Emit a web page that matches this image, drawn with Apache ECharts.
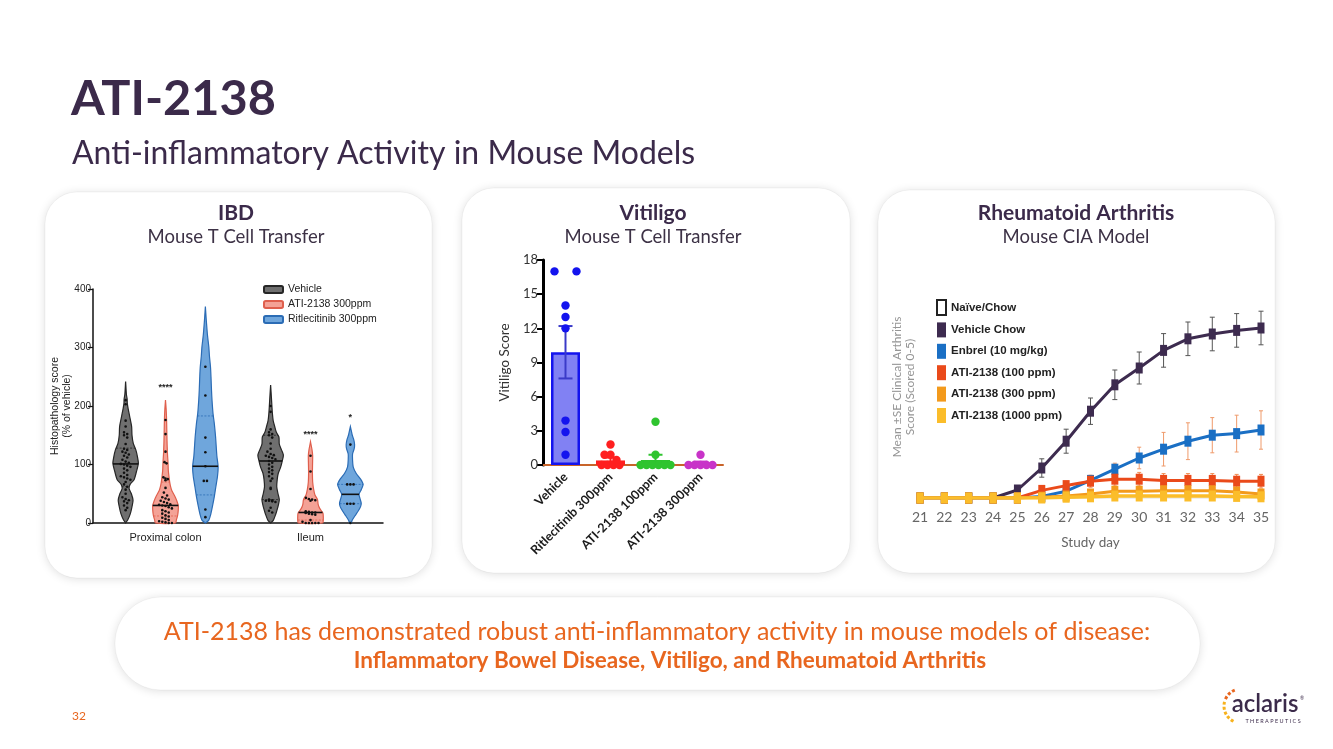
<!DOCTYPE html>
<html><head><meta charset="utf-8">
<script src="https://cdn.jsdelivr.net/npm/echarts@6.0.0/dist/echarts.min.js"></script>
<style>html,body{margin:0;padding:0;background:#ffffff;}#chart{width:1333px;height:749px;}</style>
</head><body><div id="chart"></div>
<script>
// ---------------- DATA ----------------
// IBD (violin plots)
const ibdCategories = ['Proximal colon', 'Ileum'];
const ibdGroups = ['Vehicle', 'ATI-2138 300ppm', 'Ritlecitinib 300ppm'];
const ibdYName = 'Histopathology score\n(% of vehicle)';
// violin outline: [score, relative width 0-1]
const violinVehicleColon = [[0,0],[5,0.16],[16,0.37],[28,0.5],[39,0.58],[50,0.45],[59,0.27],[66,0.35],[74,0.66],[88,0.85],[102,1.0],[114,0.92],[125,0.8],[136,0.6],[150,0.5],[165,0.47],[182,0.32],[195,0.2],[205,0.13],[212,0.12],[220,0.06],[242,0]];
const violinAtiColon = [[0,0.78],[5,0.85],[13,0.95],[22,1.0],[30,1.0],[40,0.85],[45,0.75],[55,0.5],[62,0.4],[70,0.33],[78,0.28],[90,0.22],[102,0.2],[120,0.15],[140,0.12],[160,0.1],[180,0.08],[195,0.05],[210,0]];
const violinRitColon = [[0,0],[5,0.27],[15,0.42],[28,0.55],[45,0.7],[62,0.82],[80,0.95],[96,1.0],[115,0.9],[147,0.8],[170,0.7],[187,0.6],[210,0.52],[227,0.48],[250,0.44],[267,0.4],[285,0.32],[301,0.27],[320,0.17],[330,0.13],[350,0.06],[370,0]];
const violinVehicleIleum = [[0,0],[5,0.22],[15,0.4],[22,0.5],[32,0.62],[40,0.68],[50,0.58],[62,0.48],[75,0.52],[85,0.6],[95,0.78],[105,0.9],[116,1.0],[125,0.85],[135,0.68],[147,0.65],[155,0.45],[165,0.32],[175,0.2],[187,0.14],[200,0.1],[215,0.06],[236,0]];
const violinAtiIleum = [[0,0.95],[5,1.0],[12,1.0],[17,0.97],[25,0.72],[32,0.6],[40,0.55],[48,0.35],[57,0.25],[70,0.17],[85,0.15],[100,0.16],[115,0.17],[125,0.12],[139,0]];
const violinRitIleum = [[0,0.05],[5,0.15],[12,0.35],[20,0.6],[28,0.8],[34,0.85],[42,0.75],[49,0.68],[57,0.85],[66,1.0],[75,0.8],[85,0.45],[96,0.22],[108,0.17],[118,0.17],[127,0.3],[134,0.33],[142,0.27],[150,0.15],[158,0.07],[165,0]];
// [median, q1, q3] per category
const quartVehicle = [[101,62,128],[106,40,150]];
const quartAti = [[30,12,70],[18,5,40]];
const quartRit = [[97,48,183],[49,33,66]];
// individual animals
const dotsVehicleColon = [210,203,175,165,155,152,150,146,135,127,125,122,120,117,115,112,108,105,103,101,100,98,96,93,90,86,82,80,78,76,74,70,66,62,57,50,44,41,39,37,34,30,26,22];
const dotsAtiColon = [176,152,122,104,102,78,76,75,73,60,52,47,44,42,40,38,36,34,32,31,30,29,27,25,22,20,18,16,13,11,9,7,5,3,2,1,0,0];
const dotsRitColon = [267,218,146,121,97,72,72,23,10];
const dotsVehicleIleum = [200,190,160,155,152,150,146,136,127,122,118,116,115,113,111,109,106,103,100,96,93,90,87,84,80,76,72,60,58,40,39,38,38,37,36,26,21,18];
const dotsAtiIleum = [115,88,58,43,41,40,39,38,20,19,18,18,17,16,15,14,5,2,0,0,0,0,0];
const dotsRitIleum = [134,66,66,66,33,33,33,0];
// significance marks: [category, group, score, label]
const ibdStars = [[0,1,232,'****'],[1,1,152,'****'],[1,2,180,'*']];

// Vitiligo
const vitCategories = ['Vehicle','Ritlecitinib 300ppm','ATI-2138 100ppm','ATI-2138 300ppm'];
const vitMeans = [9.9, 0.4, 0.45, 0.15];
const vitSE = [2.3, 0.25, 0.45, 0.15];
const vitDotsVehicle = [17,17,14,13,12,3.9,2.9,0.9];
const vitDotsRit = [1.8,0.9,0.9,0.45,0,0,0,0];
const vitDotsAti100 = [3.8,0.9,0,0,0,0,0,0];
const vitDotsAti300 = [0.9,0,0,0,0,0];

// Rheumatoid arthritis (CIA)
const raDays = ['21','22','23','24','25','26','27','28','29','30','31','32','33','34','35'];
const raNaive = [0,0,0,0,0,0,0,0,0,0,0,0,0,0,0];
const raVehicle = [0,0,0,0,0.2,0.75,1.42,2.17,2.83,3.25,3.69,3.98,4.1,4.19,4.25];
const raVehicleSE = [0,0,0,0,0.05,0.23,0.3,0.33,0.37,0.4,0.42,0.42,0.42,0.42,0.42];
const raEnbrel = [0,0,0,0,0,0.04,0.17,0.44,0.72,1.0,1.22,1.42,1.57,1.61,1.7];
const raEnbrelSE = [0,0,0,0,0,0.02,0.05,0.1,0.15,0.27,0.42,0.46,0.44,0.46,0.48];
const raAti100 = [0,0,0,0,0,0.19,0.31,0.42,0.47,0.47,0.44,0.44,0.44,0.42,0.42];
const raAti100SE = [0,0,0,0,0,0.05,0.08,0.15,0.17,0.17,0.17,0.17,0.17,0.17,0.17];
const raAti300 = [0,0,0,0,0,0.02,0.05,0.1,0.17,0.17,0.18,0.18,0.18,0.15,0.1];
const raAti1000 = [0,0,0,0,0,0,0.02,0.03,0.05,0.05,0.05,0.05,0.05,0.04,0.03];

// ---------------- STYLE / LAYOUT ----------------
const PURPLE = '#3b2a4a';
const ORANGE = '#e8661f';
const SANS = "Lato, 'Noto Sans', sans-serif";
const ARIAL = "'Liberation Sans', Arial, sans-serif";
const measureCtx = document.createElement('canvas').getContext('2d');
function fitSize(text, weight, family, width, maxSize) {
  measureCtx.font = weight + ' 100px ' + family;
  const w = measureCtx.measureText(text).width;
  return Math.min(maxSize, 100 * width / w);
}

const violinProfiles = [[violinVehicleColon, violinVehicleIleum],[violinAtiColon, violinAtiIleum],[violinRitColon, violinRitIleum]];
const violinQuart = [quartVehicle, quartAti, quartRit];
const violinDots = [[dotsVehicleColon, dotsVehicleIleum],[dotsAtiColon, dotsAtiIleum],[dotsRitColon, dotsRitIleum]];
const violinFill = ['#6f6f6f','#f4a296','#6fa6dc'];
const violinEdge = ['#262626','#df5f4d','#2b6cb5'];
const GROUP_SHIFT = 0.275, VIOLIN_HW = 0.088;

function widthAt(prof, v) {
  for (let i = 1; i < prof.length; i++) {
    if (v <= prof[i][0]) {
      const a = prof[i-1], b = prof[i];
      const t = (v - a[0]) / ((b[0] - a[0]) || 1);
      return a[1] + (b[1] - a[1]) * t;
    }
  }
  return 0;
}
function swarm(values, binSize, stepFn) {
  const bins = {};
  values.forEach(v => { const b = Math.round(v / binSize); (bins[b] = bins[b] || []).push(v); });
  const out = [];
  Object.keys(bins).forEach(k => {
    const arr = bins[k], n = arr.length, step = stepFn(arr[0], n);
    arr.forEach((v, i) => out.push([v, (i - (n - 1) / 2) * step]));
  });
  return out;
}
function violinRender(g) {
  return function (params, api) {
    const cat = api.value(0);
    const prof = violinProfiles[g][cat];
    const band = api.size([1, 0])[0];
    const cx = api.coord([cat, 0])[0] + (g - 1) * band * GROUP_SHIFT;
    const hw = band * VIOLIN_HW;
    const Y = v => api.coord([cat, v])[1];
    const pts = prof.map(p => [cx + p[1] * hw, Y(p[0])])
      .concat(prof.slice().reverse().map(p => [cx - p[1] * hw, Y(p[0])]));
    const children = [{ type: 'polygon', shape: { points: pts, smooth: 0.25 },
      style: { fill: violinFill[g], stroke: violinEdge[g], lineWidth: 1.2 } }];
    violinQuart[g][cat].forEach((v, k) => {
      const w = widthAt(prof, v) * hw;
      children.push({ type: 'line', shape: { x1: cx - w, y1: Y(v), x2: cx + w, y2: Y(v) },
        style: { stroke: k === 0 ? '#111' : violinEdge[g], lineWidth: k === 0 ? 1.6 : 0.8, lineDash: k === 0 ? null : [2, 1.5] } });
    });
    swarm(violinDots[g][cat], 7, () => 3.2).forEach(([v, o]) => {
      const lim = Math.max(0, widthAt(prof, v) * hw - 1.5);
      const off = Math.max(-lim, Math.min(lim, o));
      children.push({ type: 'circle', shape: { cx: cx + off, cy: Y(v), r: 1.3 }, style: { fill: '#111' } });
    });
    return { type: 'group', children };
  };
}

const vitDots = [vitDotsVehicle, vitDotsRit, vitDotsAti100, vitDotsAti300];
const vitFill = ['rgba(80,80,238,0.72)','rgba(255,70,70,0.85)','rgba(80,210,80,0.85)','rgba(215,80,215,0.85)'];
const vitEdge = ['#1414ee','#ff1f1f','#2fc42f','#c833c8'];
const vitErr = ['#3a3ac8','#ff1f1f','#2fc42f','#c833c8'];

function errRender(colorFn, cap, width) {
  return function (params, api) {
    const i = api.value(0);
    const lo = api.coord([i, api.value(1)]), hi = api.coord([i, api.value(2)]);
    const c = colorFn(i);
    return { type: 'group', children: [
      { type: 'line', shape: { x1: lo[0], y1: lo[1], x2: hi[0], y2: hi[1] }, style: { stroke: c, lineWidth: width } },
      { type: 'line', shape: { x1: hi[0] - cap, y1: hi[1], x2: hi[0] + cap, y2: hi[1] }, style: { stroke: c, lineWidth: width } },
      { type: 'line', shape: { x1: lo[0] - cap, y1: lo[1], x2: lo[0] + cap, y2: lo[1] }, style: { stroke: c, lineWidth: width } }
    ] };
  };
}
function errData(vals, se) {
  const d = [];
  vals.forEach((v, i) => { if (se[i] > 0) d.push([i, Math.max(0, v - se[i]), v + se[i]]); });
  return d;
}

// ---------------- TEXT SIZES ----------------
const sTitle = fitSize('ATI-2138', 'bold', SANS, 205, 50);
const sSub = fitSize('Anti-inflammatory Activity in Mouse Models', 'normal', SANS, 691, 32);
const sPanelT = fitSize('Rheumatoid Arthritis', 'bold', SANS, 213, 21);
const sPanelS = fitSize('Mouse CIA Model', 'normal', SANS, 167, 18.5);
const sBot1 = fitSize('ATI-2138 has demonstrated robust anti-inflammatory activity in mouse models of disease:', 'normal', SANS, 1073, 25);
const sBot2 = fitSize('Inflammatory Bowel Disease, Vitiligo, and Rheumatoid Arthritis', 'bold', SANS, 730, 22.5);

function panel(x, y, w, h) {
  return { type: 'rect', z: 0, shape: { x, y, width: w, height: h, r: 32 },
    style: { fill: '#ffffff', stroke: 'rgba(0,0,0,0.04)', lineWidth: 1, shadowBlur: 10, shadowColor: 'rgba(0,0,0,0.13)', shadowOffsetY: 1 } };
}
function txt(text, x, y, size, weight, fill, align, family) {
  return { type: 'text', z: 5, x, y, style: { text, fill, font: weight + ' ' + size + 'px ' + (family || SANS), align: align || 'center', verticalAlign: 'middle' } };
}

// ---------------- CHART ----------------
const chart = echarts.init(document.getElementById('chart'), null, { renderer: 'canvas' });
const raColors = { naive: '#ffffff', vehicle: '#3d2b4f', enbrel: '#1a6fc4', a100: '#ea4a1a', a300: '#f39a1c', a1000: '#fbbd2a' };

const option = {
  animation: false,
  backgroundColor: '#ffffff',
  textStyle: { fontFamily: SANS },
  graphic: [
    panel(45, 192, 387, 386),
    panel(462, 188, 388, 385),
    panel(878, 190, 397, 383),
    { type: 'rect', z: 0, shape: { x: 115, y: 597, width: 1085, height: 93, r: 46 },
      style: { fill: '#ffffff', stroke: 'rgba(0,0,0,0.04)', lineWidth: 1, shadowBlur: 10, shadowColor: 'rgba(0,0,0,0.13)', shadowOffsetY: 1 } },
    txt('ATI-2138', 71, 99, sTitle, 'bold', PURPLE, 'left', SANS),
    txt('Anti-inflammatory Activity in Mouse Models', 72, 154, sSub, 'normal', PURPLE, 'left'),
    txt('IBD', 236, 213, sPanelT, 'bold', PURPLE),
    txt('Mouse T Cell Transfer', 236, 237, sPanelS, 'normal', '#3d3246'),
    txt('Vitiligo', 653, 213, sPanelT, 'bold', PURPLE),
    txt('Mouse T Cell Transfer', 653, 237, sPanelS, 'normal', '#3d3246'),
    txt('Rheumatoid Arthritis', 1076, 213, sPanelT, 'bold', PURPLE),
    txt('Mouse CIA Model', 1076, 237, sPanelS, 'normal', '#3d3246'),
    txt('ATI-2138 has demonstrated robust anti-inflammatory activity in mouse models of disease:', 657, 632, sBot1, 'normal', ORANGE),
    txt('Inflammatory Bowel Disease, Vitiligo, and Rheumatoid Arthritis', 670, 661, sBot2, 'bold', ORANGE),
    txt('32', 72, 716, 12, 'normal', ORANGE, 'left'),
    // IBD y-axis title (rotated)
    { type: 'text', z: 5, x: 61, y: 406, rotation: Math.PI / 2,
      style: { text: ibdYName, fill: '#222', font: 'normal 10.5px ' + ARIAL, lineHeight: 12, align: 'center', verticalAlign: 'middle' } },
    // logo
    { type: 'arc', z: 5, shape: { cx: 1241, cy: 706, r: 17, startAngle: -Math.PI * 0.62, endAngle: -Math.PI * 0.9, clockwise: false }, style: { stroke: '#e8661f', lineWidth: 3, fill: null, lineDash: [3, 2] } },
    { type: 'arc', z: 5, shape: { cx: 1241, cy: 706, r: 17, startAngle: -Math.PI * 0.92, endAngle: Math.PI * 0.62, clockwise: false }, style: { stroke: '#f7b21e', lineWidth: 3, fill: null, lineDash: [3, 2] } },
    txt('aclaris', 1265, 704, 24, '600', PURPLE, 'center'),
    txt('T H E R A P E U T I C S', 1273, 721, 5.5, 'normal', PURPLE, 'center'),
    txt('®', 1302, 698, 5, 'normal', PURPLE, 'center')
  ],
  legend: [
    { left: 258, top: 279, orient: 'vertical', itemWidth: 19, itemHeight: 7, itemGap: 4, icon: 'roundRect', selectedMode: false,
      textStyle: { fontFamily: ARIAL, fontSize: 10.5, color: '#222' }, data: ibdGroups },
    { left: 931, top: 294, orient: 'vertical', itemWidth: 9, itemHeight: 15, itemGap: 6.4, icon: 'rect', selectedMode: false,
      textStyle: { fontFamily: "'Liberation Sans', Arial, sans-serif", fontWeight: 'bold', fontSize: 11.5, color: '#222' },
      data: ['Naïve/Chow', 'Vehicle Chow', 'Enbrel (10 mg/kg)', 'ATI-2138 (100 ppm)', 'ATI-2138 (300 ppm)', 'ATI-2138 (1000 ppm)'] }
  ],
  grid: [
    { left: 93, top: 289, width: 290, height: 234 },
    { left: 543, top: 260, width: 180, height: 205 },
    { left: 920, top: 298, width: 341, height: 200 }
  ],
  xAxis: [
    { gridIndex: 0, type: 'category', data: ibdCategories,
      axisLine: { lineStyle: { color: '#111', width: 1.5 } },
      axisTick: { alignWithLabel: true, length: 5, lineStyle: { color: '#111', width: 1.2 } },
      axisLabel: { fontFamily: ARIAL, fontSize: 11, color: '#222', margin: 9 } },
    { gridIndex: 1, type: 'category', data: vitCategories,
      axisLine: { lineStyle: { color: '#c8642a', width: 2 } },
      axisTick: { alignWithLabel: true, length: 6, lineStyle: { color: '#111', width: 2 } },
      axisLabel: { rotate: 45, fontSize: 12.5, fontWeight: 'bold', color: '#1a1a1a', margin: 10, interval: 0 } },
    { gridIndex: 2, type: 'category', data: raDays, boundaryGap: false,
      axisLine: { show: false }, axisTick: { show: false },
      axisLabel: { fontSize: 14, color: '#666', margin: 12 },
      name: 'Study day', nameLocation: 'middle', nameGap: 38, nameTextStyle: { fontSize: 13.5, color: '#666' } }
  ],
  yAxis: [
    { gridIndex: 0, type: 'value', min: 0, max: 400, interval: 100,
      axisLine: { show: true, lineStyle: { color: '#111', width: 1.5 } },
      axisTick: { show: true, length: 5, lineStyle: { color: '#111', width: 1.2 } },
      axisLabel: { fontFamily: ARIAL, fontSize: 10, color: '#222', margin: 2 },
      splitLine: { show: false } },
    { gridIndex: 1, type: 'value', min: 0, max: 18, interval: 3,
      axisLine: { show: true, lineStyle: { color: '#000', width: 3 } },
      axisTick: { show: true, length: 6, lineStyle: { color: '#000', width: 2 } },
      axisLabel: { fontSize: 13, color: '#333', margin: 5 },
      splitLine: { show: false },
      name: 'Vitiligo Score', nameLocation: 'middle', nameGap: 31, nameTextStyle: { fontSize: 13.5, color: '#333' } },
    { gridIndex: 2, type: 'value', min: 0, max: 5,
      axisLine: { show: false }, axisTick: { show: false }, axisLabel: { show: false }, splitLine: { show: false },
      name: 'Mean ±SE Clinical Arthritis\nScore (Scored 0-5)', nameLocation: 'middle', nameGap: 3,
      nameTextStyle: { fontSize: 12, color: '#959595', lineHeight: 13, padding: [0, 0, 0, 22] } }
  ],
  series: [
    // IBD violins
    ...ibdGroups.map((name, g) => ({
      type: 'custom', name, xAxisIndex: 0, yAxisIndex: 0, z: 3, clip: false,
      itemStyle: { color: violinFill[g], borderColor: violinEdge[g], borderWidth: 1 },
      renderItem: violinRender(g), data: [[0, 0], [1, 0]], encode: { x: 0, y: 1 }
    })),
    { type: 'custom', xAxisIndex: 0, yAxisIndex: 0, z: 4, clip: false,
      data: ibdStars.map(s => [s[0], s[2]]),
      renderItem: (params, api) => {
        const s = ibdStars[params.dataIndex];
        const band = api.size([1, 0])[0];
        const p = api.coord([s[0], s[2]]);
        return { type: 'text', x: p[0] + (s[1] - 1) * band * GROUP_SHIFT, y: p[1],
          style: { text: s[3], fill: '#222', font: 'bold 9px ' + ARIAL, align: 'center', verticalAlign: 'middle' } };
      } },
    // Vitiligo
    { type: 'bar', xAxisIndex: 1, yAxisIndex: 1, barWidth: 29, z: 2,
      data: vitMeans.map((v, i) => ({ value: v, itemStyle: { color: vitFill[i], borderColor: vitEdge[i], borderWidth: 2.5 } })) },
    { type: 'custom', xAxisIndex: 1, yAxisIndex: 1, z: 4, clip: false,
      data: errData(vitMeans, vitSE), renderItem: errRender(i => vitErr[i], 7, 2) },
    { type: 'custom', xAxisIndex: 1, yAxisIndex: 1, z: 5, clip: false,
      data: vitCategories.map((c, i) => [i, 0]),
      renderItem: (params, api) => {
        const i = api.value(0);
        const cx = api.coord([i, 0])[0];
        const children = swarm(vitDots[i], 0.7, (v, n) => (v > 5 && n === 2 ? 22 : 6)).map(([v, o]) => ({
          type: 'circle', shape: { cx: cx + o, cy: api.coord([i, v])[1], r: 4.2 }, style: { fill: vitEdge[i] } }));
        return { type: 'group', children };
      } },
    // RA
    { type: 'line', name: 'Naïve/Chow', xAxisIndex: 2, yAxisIndex: 2, data: raNaive, z: 1,
      symbol: 'rect', showSymbol: false, symbolSize: [7, 11], lineStyle: { width: 2, color: '#eeeeee' },
      itemStyle: { color: raColors.naive, borderColor: '#222', borderWidth: 1.2 } },
    { type: 'custom', xAxisIndex: 2, yAxisIndex: 2, z: 2, data: errData(raVehicle, raVehicleSE), renderItem: errRender(() => '#555', 2.5, 1) },
    { type: 'line', name: 'Vehicle Chow', xAxisIndex: 2, yAxisIndex: 2, data: raVehicle, z: 3,
      symbol: 'rect', symbolSize: [7, 11], lineStyle: { width: 3, color: raColors.vehicle }, itemStyle: { color: raColors.vehicle } },
    { type: 'custom', xAxisIndex: 2, yAxisIndex: 2, z: 3, data: errData(raEnbrel, raEnbrelSE), renderItem: errRender(() => '#ef9a6a', 2, 1) },
    { type: 'line', name: 'Enbrel (10 mg/kg)', xAxisIndex: 2, yAxisIndex: 2, data: raEnbrel, z: 4,
      symbol: 'rect', symbolSize: [7, 11], lineStyle: { width: 3, color: raColors.enbrel }, itemStyle: { color: raColors.enbrel } },
    { type: 'custom', xAxisIndex: 2, yAxisIndex: 2, z: 4, data: errData(raAti100, raAti100SE), renderItem: errRender(() => '#f08a50', 2, 1) },
    { type: 'line', name: 'ATI-2138 (100 ppm)', xAxisIndex: 2, yAxisIndex: 2, data: raAti100, z: 5,
      symbol: 'rect', symbolSize: [7, 11], lineStyle: { width: 3, color: raColors.a100 }, itemStyle: { color: raColors.a100 } },
    { type: 'line', name: 'ATI-2138 (300 ppm)', xAxisIndex: 2, yAxisIndex: 2, data: raAti300, z: 6,
      symbol: 'rect', symbolSize: [7, 11], lineStyle: { width: 3, color: raColors.a300 }, itemStyle: { color: raColors.a300 } },
    { type: 'line', name: 'ATI-2138 (1000 ppm)', xAxisIndex: 2, yAxisIndex: 2, data: raAti1000, z: 7,
      symbol: 'rect', symbolSize: [7, 11], lineStyle: { width: 3.5, color: raColors.a1000 }, itemStyle: { color: raColors.a1000 } }
  ]
};
chart.setOption(option);
</script></body></html>
